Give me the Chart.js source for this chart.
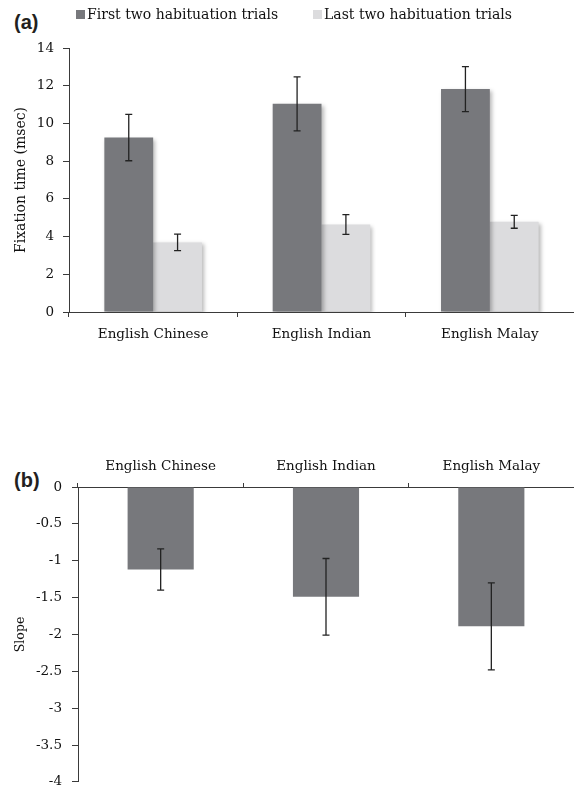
<!DOCTYPE html>
<html>
<head>
<meta charset="utf-8">
<script src="https://cdn.jsdelivr.net/npm/chart.js@4.4.1/dist/chart.umd.min.js"></script>
<style>
  html, body { margin: 0; padding: 0; background: #fff; width: 574px; height: 796px; overflow: hidden; }
  .box { position: absolute; left: 0; width: 574px; }
  .tag { position: absolute; font-family: "Liberation Sans", Arial, sans-serif; font-weight: bold; font-size: 20px; color: #231f20; line-height: 1; }
</style>
</head>
<body>
<div class="tag" style="left:14px; top:12px;">(a)</div>
<div class="tag" style="left:14px; top:470px;">(b)</div>
<div class="box" style="top:0; height:346px;"><canvas id="chartA"></canvas></div>
<div class="box" style="top:430px; height:370px;"><canvas id="chartB"></canvas></div>
<script>
// ---- Data ----
const categories = ['English Chinese', 'English Indian', 'English Malay'];

const firstTwoLabel = 'First two habituation trials';
const firstTwoValues = [9.25, 11.04, 11.82];
const firstTwoErrors = [1.23, 1.43, 1.19];

const lastTwoLabel = 'Last two habituation trials';
const lastTwoValues = [3.69, 4.64, 4.78];
const lastTwoErrors = [0.44, 0.52, 0.34];

const slopeValues = [-1.12, -1.49, -1.89];
const slopeErrors = [0.28, 0.52, 0.59];

const fixationTicks = [0, 2, 4, 6, 8, 10, 12, 14];
const slopeTicks = [0, -0.5, -1, -1.5, -2, -2.5, -3, -3.5, -4];

// ---- Styles ----
const DARK = '#77787c';
const LIGHT = '#dcdcde';
const AXIS = '#3a3a3a';
const TEXT = '#111111';
const SERIF = '"DejaVu Serif", "Liberation Serif", serif';

function errorBarPlugin(errorsByDataset, shadow) {
  return {
    id: 'errbars',
    beforeDatasetsDraw(chart) {
      const ctx = chart.ctx;
      ctx.save();
      if (shadow) {
        ctx.shadowColor = 'rgba(0,0,0,0.28)';
        ctx.shadowBlur = 4;
        ctx.shadowOffsetX = 2;
        ctx.shadowOffsetY = 2;
      }
    },
    afterDatasetsDraw(chart) {
      const ctx = chart.ctx;
      ctx.restore();
      const y = chart.scales.y;
      ctx.save();
      ctx.strokeStyle = '#222222';
      ctx.lineWidth = 1.3;
      chart.data.datasets.forEach((ds, di) => {
        const meta = chart.getDatasetMeta(di);
        const errs = errorsByDataset[di];
        meta.data.forEach((bar, i) => {
          const v = ds.data[i], e = errs[i];
          const yHi = y.getPixelForValue(v + e);
          const yLo = y.getPixelForValue(v - e);
          const x = bar.x;
          ctx.beginPath();
          ctx.moveTo(x, yHi); ctx.lineTo(x, yLo);
          ctx.moveTo(x - 3.5, yHi); ctx.lineTo(x + 3.5, yHi);
          ctx.moveTo(x - 3.5, yLo); ctx.lineTo(x + 3.5, yLo);
          ctx.stroke();
        });
      });
      ctx.restore();
    }
  };
}

const legendPlugin = {
  id: 'customLegend',
  afterDraw(chart) {
    const ctx = chart.ctx;
    const xs = [76, 313];
    ctx.save();
    ctx.font = '14px ' + SERIF;
    ctx.textBaseline = 'middle';
    ctx.textAlign = 'left';
    chart.data.datasets.forEach((ds, i) => {
      ctx.fillStyle = ds.backgroundColor;
      ctx.fillRect(xs[i], 10, 9, 9);
      ctx.fillStyle = TEXT;
      ctx.fillText(ds.label, xs[i] + 11, 15);
    });
    ctx.restore();
  }
};

Chart.defaults.font.family = SERIF;
Chart.defaults.color = TEXT;

// ---- Chart (a) ----
new Chart(document.getElementById('chartA'), {
  type: 'bar',
  data: {
    labels: categories,
    datasets: [
      { label: firstTwoLabel, data: firstTwoValues, backgroundColor: DARK },
      { label: lastTwoLabel, data: lastTwoValues, backgroundColor: LIGHT }
    ]
  },
  options: {
    responsive: true,
    maintainAspectRatio: false,
    animation: false,
    layout: { padding: { top: 48, left: 0, right: 0, bottom: 0 } },
    datasets: { bar: { categoryPercentage: 0.58, barPercentage: 1.0 } },
    plugins: { legend: { display: false }, tooltip: { enabled: false } },
    scales: {
      x: {
        grid: { drawOnChartArea: false, drawTicks: true, tickLength: 5, color: AXIS, offset: true },
        border: { color: AXIS, width: 1 },
        ticks: { font: { size: 13.5 }, padding: 9, color: TEXT },
        afterFit(scale) { scale.height = 34; }
      },
      y: {
        min: 0, max: 14,
        afterBuildTicks(scale) { scale.ticks = fixationTicks.map(v => ({ value: v })); },
        grid: { drawOnChartArea: false, drawTicks: true, tickLength: 6, color: AXIS },
        border: { color: AXIS, width: 1 },
        ticks: { font: { size: 13.5 }, padding: 9, color: TEXT, callback: v => String(v) },
        title: { display: true, text: 'Fixation time (msec)', font: { size: 14 }, color: TEXT, padding: { top: 13, bottom: 0 } },
        afterFit(scale) { scale.width = 69; }
      }
    }
  },
  plugins: [errorBarPlugin([firstTwoErrors, lastTwoErrors], true), legendPlugin]
});

// ---- Chart (b) ----
new Chart(document.getElementById('chartB'), {
  type: 'bar',
  data: {
    labels: categories,
    datasets: [
      { label: 'Slope', data: slopeValues, backgroundColor: DARK }
    ]
  },
  options: {
    responsive: true,
    maintainAspectRatio: false,
    animation: false,
    layout: { padding: { top: 0, left: 0, right: 0, bottom: 11 } },
    datasets: { bar: { categoryPercentage: 0.40, barPercentage: 1.0 } },
    plugins: { legend: { display: false }, tooltip: { enabled: false } },
    scales: {
      x: {
        position: 'top',
        grid: { drawOnChartArea: false, drawTicks: true, tickLength: 4, color: AXIS, offset: true },
        border: { color: AXIS, width: 1 },
        ticks: { font: { size: 13.5 }, padding: 8, color: TEXT },
        afterFit(scale) { scale.height = 57; }
      },
      y: {
        min: -4, max: 0,
        afterBuildTicks(scale) { scale.ticks = slopeTicks.map(v => ({ value: v })); },
        grid: { drawOnChartArea: false, drawTicks: true, tickLength: 6, color: AXIS },
        border: { color: AXIS, width: 1 },
        ticks: { font: { size: 13.5 }, padding: 10, color: TEXT, callback: v => String(v) },
        title: { display: true, text: 'Slope', font: { size: 12.5 }, color: TEXT, padding: { top: 13, bottom: 0 } },
        afterFit(scale) { scale.width = 78; }
      }
    }
  },
  plugins: [errorBarPlugin([slopeErrors], false)]
});
</script>
</body>
</html>
